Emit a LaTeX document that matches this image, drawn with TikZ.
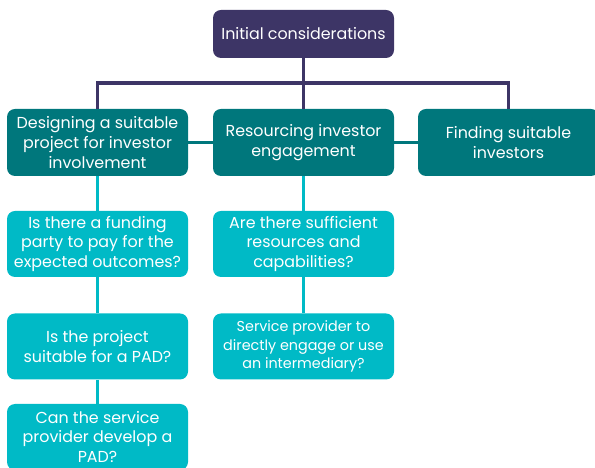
\documentclass[tikz,border=0pt]{standalone}
\usepackage{fontspec}
\setmainfont{Poppins}

\definecolor{initpurple}{RGB}{61, 53, 102}
\definecolor{areateal}{RGB}{0, 119, 124}
\definecolor{questcyan}{RGB}{0, 186, 198}

\begin{document}
\begin{tikzpicture}[every node/.style={transform shape},
        box/.style={rectangle, rounded corners=0.2cm, text=white, align=center,
            minimum width=4.525cm, inner sep=2pt, font=\fontsize{11.3}{13.9}\selectfont},
        topbox/.style={box, fill=initpurple, minimum height=1.2cm},
        areabox/.style={box, fill=areateal, minimum height=1.675cm},
        questbox/.style={box, fill=questcyan, minimum height=1.65cm},
        topline/.style={draw=initpurple, line width=2.2pt},
        arealine/.style={draw=areateal, line width=2.2pt},
        questline/.style={draw=questcyan, line width=2.2pt}]

    \useasboundingbox (0,0) rectangle (14.875,11.7);

    % --- węzeł główny ---
    \node[topbox] (init) at (7.5875,10.85) {Initial considerations};

    % --- obszary ---
    \node[areabox] (design)   at (2.4375,8.1375) {Designing a suitable\\project for investor\\involvement};
    \node[areabox] (resource) at (7.5875,8.1375) {Resourcing investor\\engagement};
    \node[areabox] (finding)  at (12.7125,8.1375) {Finding suitable\\investors};

    % --- pytania ---
    \node[questbox] (funding)   at (2.4375,5.6)    {Is there a funding\\party to pay for the\\expected outcomes?};
    \node[questbox] (suitable)  at (2.4375,3.0375) {Is the project\\suitable for a PAD?};
    \node[questbox] (develop)   at (2.4375,0.775)  {Can the service\\provider develop a\\PAD?};
    \node[questbox] (capable)   at (7.5875,5.6)    {Are there sufficient\\resources and\\capabilities?};
    \node[questbox, font=\fontsize{10.2}{13}\selectfont] (intermed) at (7.5875,3.0375)
        {Service provider to\\directly engage or use\\an intermediary?};

    % --- połączenia górne ---
    \coordinate (bar) at (7.5875,9.625);
    \draw[topline] (init.south) -- (resource.north);
    \draw[topline] (design.north) |- (bar) -| (finding.north);

    % --- połączenia obszarów ---
    \draw[arealine] (design.east) -- (resource.west);
    \draw[arealine] (resource.east) -- (finding.west);

    % --- połączenia pytań ---
    \draw[questline] (design.south) -- (funding.north);
    \draw[questline] (funding.south) -- (suitable.north);
    \draw[questline] (suitable.south) -- (develop.north);
    \draw[questline] (resource.south) -- (capable.north);
    \draw[questline] (capable.south) -- (intermed.north);

\end{tikzpicture}
\end{document}
